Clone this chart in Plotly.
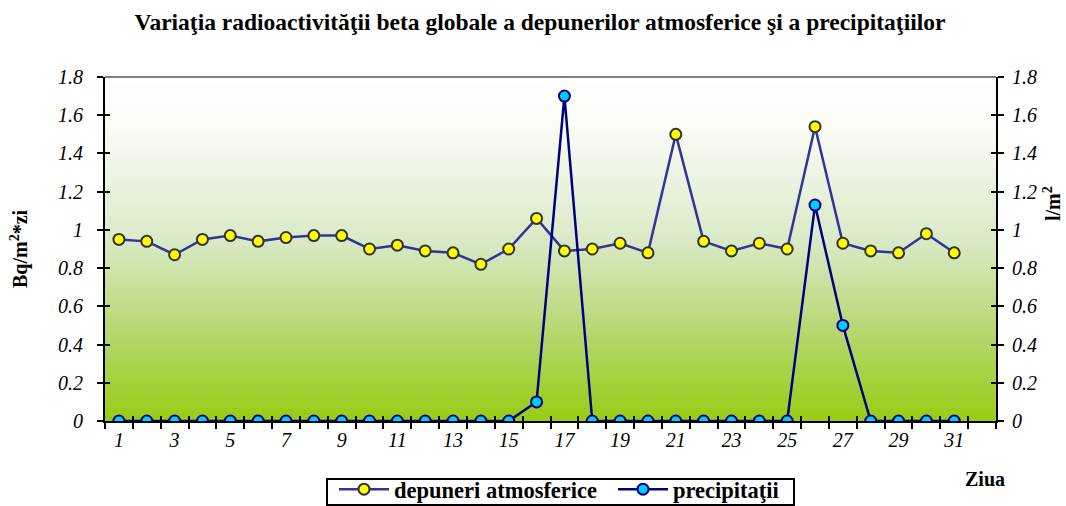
import base64, struct, zlib
import plotly.graph_objects as go

days = list(range(1, 32))
depuneri = [0.95, 0.94, 0.87, 0.95, 0.97, 0.94, 0.96, 0.97, 0.97, 0.90,
            0.92, 0.89, 0.88, 0.82, 0.90, 1.06, 0.89, 0.90, 0.93, 0.88,
            1.50, 0.94, 0.89, 0.93, 0.90, 1.54, 0.93, 0.89, 0.88, 0.98, 0.88]
precipitatii = [0, 0, 0, 0, 0, 0, 0, 0, 0, 0,
                0, 0, 0, 0, 0, 0.10, 1.70, 0, 0, 0,
                0, 0, 0, 0, 0, 1.13, 0.50, 0, 0, 0, 0]
x_tick_vals = list(range(1, 32, 2))
x_tick_text = [str(v) for v in x_tick_vals]
x_bound_vals = [v + 0.5 for v in range(0, 33)]
y_tick_vals = [round(0.2 * i, 1) for i in range(10)]

TITLE = "Variaţia radioactivităţii beta globale a depunerilor atmosferice şi a precipitaţiilor"
FONT = "Liberation Serif, Times New Roman, serif"

# plot-area pixel geometry (figure is 1066 x 506)
L, R, T, B = 105, 996, 77, 421
PW, PH = R - L, B - T

def px(x):
    return (x - L) / PW

def py(y):
    return (B - y) / PH

# ---- vertical gradient background as a tiny PNG ----
stops = [(0.0, (255, 255, 255)), (0.15, (250, 252, 245)), (0.47, (218, 234, 200)),
         (0.75, (180, 215, 110)), (1.0, (153, 204, 20))]

def grad_color(t):
    for (t0, c0), (t1, c1) in zip(stops[:-1], stops[1:]):
        if t0 <= t <= t1:
            f = (t - t0) / (t1 - t0)
            return tuple(int(round(a + (b - a) * f)) for a, b in zip(c0, c1))
    return stops[-1][1]

def make_png(n=256):
    raw = b"".join(b"\x00" + bytes(grad_color(i / (n - 1))) for i in range(n))
    def chunk(tag, data):
        c = struct.pack(">I", len(data)) + tag + data
        return c + struct.pack(">I", zlib.crc32(tag + data) & 0xffffffff)
    png = b"\x89PNG\r\n\x1a\n"
    png += chunk(b"IHDR", struct.pack(">IIBBBBB", 1, n, 8, 2, 0, 0, 0))
    png += chunk(b"IDAT", zlib.compress(raw))
    png += chunk(b"IEND", b"")
    return "data:image/png;base64," + base64.b64encode(png).decode()

fig = go.Figure()
fig.add_trace(go.Scatter(
    x=days, y=depuneri, name="depuneri atmosferice", mode="lines+markers",
    line=dict(color="#333399", width=2.5),
    marker=dict(color="#FFFF00", size=11, line=dict(color="#333333", width=2)),
    xaxis="x", yaxis="y", legend="legend"))
fig.add_trace(go.Scatter(
    x=days, y=precipitatii, name="precipitaţii", mode="lines+markers",
    line=dict(color="#000080", width=2.5),
    marker=dict(color="#00CCFF", size=11, line=dict(color="#000080", width=2)),
    xaxis="x", yaxis="y2", legend="legend2"))

tickfont = dict(family=FONT, size=20, color="black", style="italic")
legfont = dict(family=FONT, size=22.5, weight="bold", color="black")
xr = [0.5, 32.5]
yr = [0, 1.8]

fig.update_layout(
    width=1066, height=506,
    margin=dict(l=L, r=1066 - R, t=T, b=506 - B, autoexpand=False),
    paper_bgcolor="white", plot_bgcolor="rgba(0,0,0,0)",
    font=dict(family=FONT, color="black"),
    title=dict(text="<b>" + TITLE + "</b>", x=540 / 1066, xanchor="center",
               y=1 - 22 / 506, yanchor="middle", font=dict(family=FONT, size=23.5)),
    showlegend=True,
    legend=dict(orientation="h", x=px(334), y=py(468), xanchor="left", yanchor="top",
                borderwidth=0, bgcolor="rgba(0,0,0,0)", font=legfont, itemwidth=50),
    legend2=dict(orientation="h", x=px(613), y=py(468), xanchor="left", yanchor="top",
                 borderwidth=0, bgcolor="rgba(0,0,0,0)", font=legfont, itemwidth=50),
    xaxis=dict(range=xr, tickmode="array", tickvals=x_tick_vals, ticktext=x_tick_text,
               ticks="", showgrid=False, zeroline=False, showline=True,
               linecolor="black", linewidth=2, tickfont=tickfont,
               minor=dict(tickmode="array", tickvals=x_bound_vals, ticks="outside",
                          ticklen=6, tickwidth=2, tickcolor="black", showgrid=False)),
    xaxis2=dict(range=xr, overlaying="x", side="bottom", tickmode="array",
                tickvals=x_bound_vals, ticks="inside", ticklen=5, tickwidth=2,
                tickcolor="black", showticklabels=False, showgrid=False,
                zeroline=False, showline=False),
    yaxis=dict(range=yr, tickmode="array", tickvals=y_tick_vals, ticks="outside",
               ticklen=6, tickwidth=2, tickcolor="black", showgrid=False,
               zeroline=False, showline=True, linecolor="black", linewidth=2,
               tickfont=tickfont, ticklabelstandoff=10),
    yaxis2=dict(range=yr, overlaying="y", side="right", tickmode="array",
                tickvals=y_tick_vals, ticks="outside", ticklen=6, tickwidth=2,
                tickcolor="black", showgrid=False, zeroline=False, showline=True,
                linecolor="black", linewidth=2, tickfont=tickfont,
                ticklabelstandoff=4),
    yaxis3=dict(range=yr, overlaying="y", side="left", tickmode="array",
                tickvals=y_tick_vals, ticks="inside", ticklen=5, tickwidth=2,
                tickcolor="black", showticklabels=False, showgrid=False,
                zeroline=False, showline=False),
    yaxis4=dict(range=yr, overlaying="y", side="right", tickmode="array",
                tickvals=y_tick_vals, ticks="inside", ticklen=5, tickwidth=2,
                tickcolor="black", showticklabels=False, showgrid=False,
                zeroline=False, showline=False),
)

# invisible helper traces so the overlay axes are drawn
fig.add_trace(go.Scatter(x=[days[0]], y=[depuneri[0]], xaxis="x2", yaxis="y3",
                         mode="markers", marker=dict(opacity=0), showlegend=False,
                         hoverinfo="skip"))
fig.add_trace(go.Scatter(x=[days[0]], y=[depuneri[0]], xaxis="x2", yaxis="y4",
                         mode="markers", marker=dict(opacity=0), showlegend=False,
                         hoverinfo="skip"))

fig.add_layout_image(dict(source=make_png(), xref="x domain", yref="y domain",
                          x=0, y=1, sizex=1, sizey=1, sizing="stretch",
                          xanchor="left", yanchor="top", layer="below"))

fig.add_shape(type="line", xref="x domain", yref="y domain", x0=0, x1=1, y0=1, y1=1,
              line=dict(color="#808080", width=2))
# legend frame
fig.add_shape(type="rect", xref="paper", yref="paper", x0=px(327), x1=px(794),
              y0=py(479), y1=py(505), line=dict(color="black", width=2),
              fillcolor="white", layer="below")

fig.add_annotation(text="<b>Bq/m<sup>2</sup>*zi</b>", xref="paper", yref="paper",
                   x=px(19), y=0.5, xanchor="center", yanchor="middle",
                   textangle=-90, showarrow=False, font=dict(family=FONT, size=20))
fig.add_annotation(text="<b>l/m<sup>2</sup></b>", xref="paper", yref="paper",
                   x=px(1052), y=py(204), xanchor="center", yanchor="middle",
                   textangle=-90, showarrow=False, font=dict(family=FONT, size=20))
fig.add_annotation(text="<b>Ziua</b>", xref="paper", yref="paper",
                   x=px(985), y=py(479), xanchor="center", yanchor="middle",
                   showarrow=False, font=dict(family=FONT, size=20))

fig.write_html("out.html", config={"displayModeBar": False},
               post_script="document.body.style.margin='0';document.body.style.padding='0';")
